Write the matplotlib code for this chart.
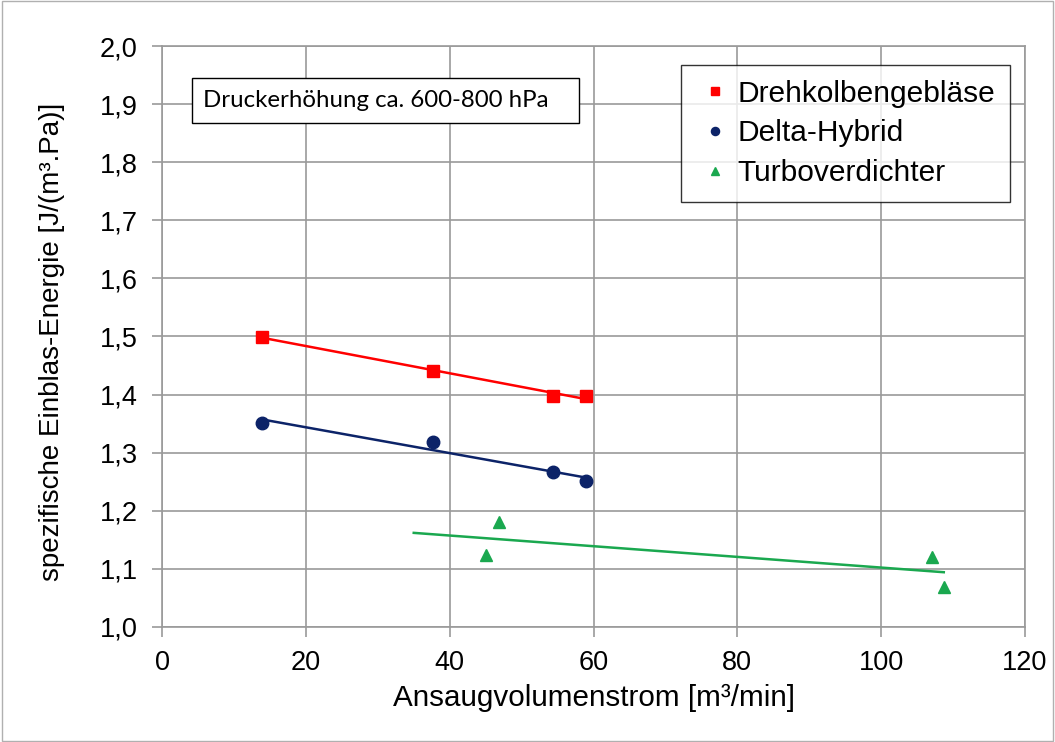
import numpy as np
import matplotlib; matplotlib.use("Agg")
import matplotlib.pyplot as plt
from matplotlib.patches import Rectangle

plt.rcParams['font.family'] = ['Liberation Sans', 'DejaVu Sans']

# data
x_dreh = [13.9, 37.7, 54.4, 59.0]
y_dreh = [1.499, 1.441, 1.397, 1.398]
x_delta = [13.9, 37.7, 54.4, 59.0]
y_delta = [1.351, 1.318, 1.266, 1.251]
x_turbo = [45.1, 46.8, 107.0, 108.7]
y_turbo = [1.124, 1.180, 1.121, 1.069]
turbo_trend_start = 35.0

xticks = [0, 20, 40, 60, 80, 100, 120]
yticks = [1.0, 1.1, 1.2, 1.3, 1.4, 1.5, 1.6, 1.7, 1.8, 1.9, 2.0]
ytick_labels = ["1,0", "1,1", "1,2", "1,3", "1,4", "1,5", "1,6", "1,7", "1,8", "1,9", "2,0"]

RED, NAVY, GREEN = "#ff0000", "#0c2368", "#1aa84f"

fig = plt.figure(figsize=(10.55, 7.42), dpi=100)
ax = fig.add_axes([0.1536, 0.155, 0.818, 0.783])

def trend(xs, ys, x0, x1, col):
    k, d = np.polyfit(xs, ys, 1)
    xx = np.array([x0, x1])
    ax.plot(xx, k * xx + d, color=col, lw=1.8, zorder=3)

trend(x_dreh, y_dreh, min(x_dreh), max(x_dreh), RED)
trend(x_delta, y_delta, min(x_delta), max(x_delta), NAVY)
trend(x_turbo, y_turbo, turbo_trend_start, max(x_turbo), GREEN)

ax.plot(x_dreh, y_dreh, "s", color=RED, ms=9, ls="none", label="Drehkolbengebläse", zorder=4)
ax.plot(x_delta, y_delta, "o", color=NAVY, ms=9, ls="none", label="Delta-Hybrid", zorder=4)
ax.plot(x_turbo, y_turbo, "^", color=GREEN, ms=9, ls="none", label="Turboverdichter", zorder=4)

ax.set_xlim(0, 120); ax.set_ylim(1.0, 2.0)
ax.set_xticks(xticks)
ax.set_yticks(yticks); ax.set_yticklabels(ytick_labels)
ax.grid(color="#9a9a9a", lw=1.2)
ax.set_axisbelow(True)
for s in ax.spines.values():
    s.set_color("#9a9a9a"); s.set_linewidth(1.2)
ax.tick_params(labelsize=19.5, color="#9a9a9a", length=7.5, width=1.2)
ax.tick_params(axis="x", pad=9)
ax.tick_params(axis="y", pad=10)
ax.set_xlabel("Ansaugvolumenstrom [m³/min]", fontsize=21.3)
ax.set_ylabel("spezifische Einblas-Energie [J/(m³.Pa)]", fontsize=20)
ax.xaxis.set_label_coords(0.5, -0.098)
ax.yaxis.set_label_coords(-0.113, 0.49)

leg = ax.legend(loc="upper right", bbox_to_anchor=(0.983, 0.968), fontsize=21.5, frameon=True,
                fancybox=False, edgecolor="black", handletextpad=0.1, handlelength=1.3,
                markerscale=0.65, borderpad=0.5, labelspacing=0.4, borderaxespad=0)
leg.get_frame().set_linewidth(1.0)

# text box (wider on the right, as in the original)
ax.add_patch(Rectangle((0.0348, 0.8675), 0.448, 0.0775, transform=ax.transAxes,
                       fc="white", ec="black", lw=1.0, zorder=5))
ax.text(0.0475, 0.906, "Druckerhöhung ca. 600-800 hPa", transform=ax.transAxes, fontsize=17.3,
        family=["Lato", "DejaVu Sans"], va="center", ha="left", zorder=6)

fig.add_artist(Rectangle((0.002, 0.002), 0.996, 0.996, transform=fig.transFigure,
                         fill=False, ec="#b0b0b0", lw=1.0))

fig.savefig("out.png", dpi=100)
